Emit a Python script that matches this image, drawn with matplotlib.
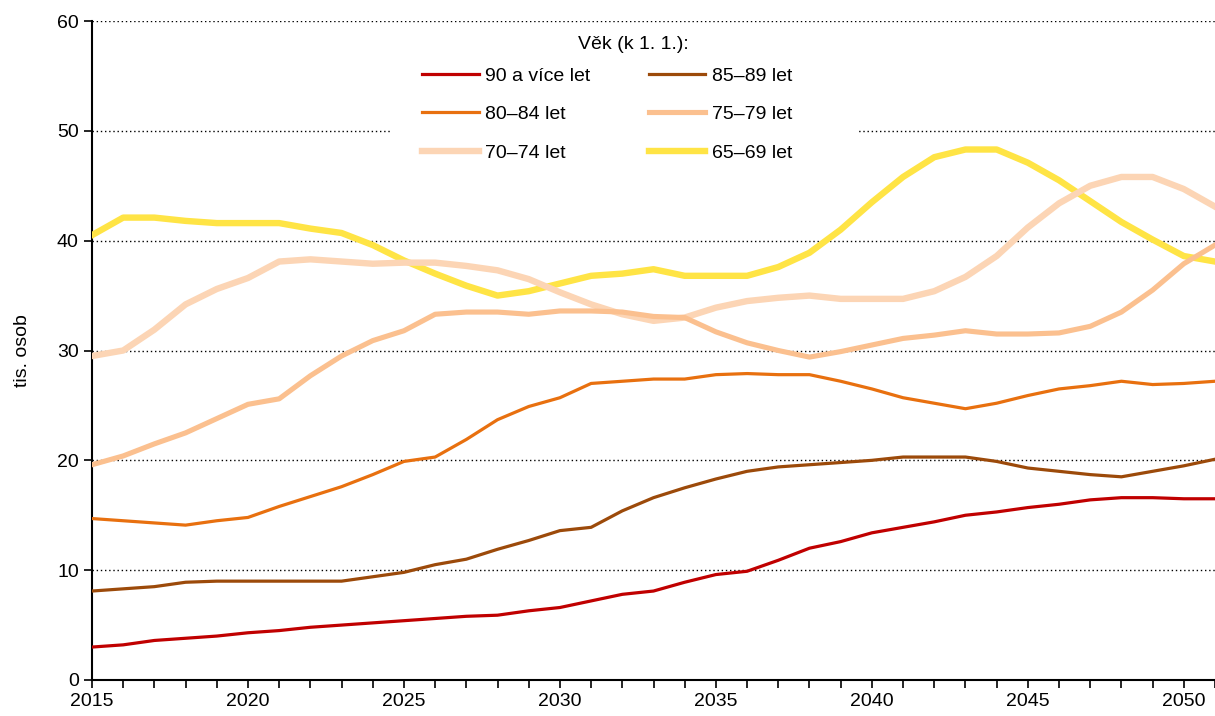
import matplotlib
matplotlib.use("Agg")
import matplotlib.pyplot as plt
from matplotlib.patches import Rectangle
from matplotlib.transforms import blended_transform_factory

plt.rcParams['font.family'] = ['Liberation Sans', 'DejaVu Sans']

years = list(range(2015, 2052))

age_90 = [3.0, 3.2, 3.6, 3.8, 4.0, 4.3, 4.5, 4.8, 5.0, 5.2, 5.4, 5.6, 5.8, 5.9, 6.3, 6.6,
          7.2, 7.8, 8.1, 8.9, 9.6, 9.9, 10.9, 12.0, 12.6, 13.4, 13.9, 14.4, 15.0, 15.3,
          15.7, 16.0, 16.4, 16.6, 16.6, 16.5, 16.5]
age_85 = [8.1, 8.3, 8.5, 8.9, 9.0, 9.0, 9.0, 9.0, 9.0, 9.4, 9.8, 10.5, 11.0, 11.9, 12.7, 13.6,
          13.9, 15.4, 16.6, 17.5, 18.3, 19.0, 19.4, 19.6, 19.8, 20.0, 20.3, 20.3, 20.3, 19.9,
          19.3, 19.0, 18.7, 18.5, 19.0, 19.5, 20.1]
age_80 = [14.7, 14.5, 14.3, 14.1, 14.5, 14.8, 15.8, 16.7, 17.6, 18.7, 19.9, 20.3, 21.9, 23.7,
          24.9, 25.7, 27.0, 27.2, 27.4, 27.4, 27.8, 27.9, 27.8, 27.8, 27.2, 26.5, 25.7, 25.2,
          24.7, 25.2, 25.9, 26.5, 26.8, 27.2, 26.9, 27.0, 27.2]
age_75 = [19.6, 20.4, 21.5, 22.5, 23.8, 25.1, 25.6, 27.7, 29.5, 30.9, 31.8, 33.3, 33.5, 33.5,
          33.3, 33.6, 33.6, 33.5, 33.1, 33.0, 31.7, 30.7, 30.0, 29.4, 29.9, 30.5, 31.1, 31.4,
          31.8, 31.5, 31.5, 31.6, 32.2, 33.5, 35.5, 37.9, 39.6]
age_70 = [29.5, 30.0, 31.9, 34.2, 35.6, 36.6, 38.1, 38.3, 38.1, 37.9, 38.0, 38.0, 37.7, 37.3,
          36.5, 35.3, 34.2, 33.3, 32.7, 33.0, 33.9, 34.5, 34.8, 35.0, 34.7, 34.7, 34.7, 35.4,
          36.7, 38.6, 41.2, 43.4, 45.0, 45.8, 45.8, 44.7, 43.1]
age_65 = [40.5, 42.1, 42.1, 41.8, 41.6, 41.6, 41.6, 41.1, 40.7, 39.6, 38.2, 37.0, 35.9, 35.0,
          35.4, 36.1, 36.8, 37.0, 37.4, 36.8, 36.8, 36.8, 37.6, 38.9, 41.0, 43.5, 45.8, 47.6,
          48.3, 48.3, 47.1, 45.5, 43.6, 41.7, 40.1, 38.6, 38.1]

fig = plt.figure(figsize=(12.15, 7.16), dpi=100)
ax = fig.add_axes([92 / 1215, 1 - 680 / 716, 1 - 92 / 1215, (680 - 21) / 716])

l90, = ax.plot(years, age_90, color='#C00000', lw=2.3, label='90 a více let', zorder=8)
l85, = ax.plot(years, age_85, color='#9C4A0A', lw=2.3, label='85–89 let', zorder=7)
l80, = ax.plot(years, age_80, color='#E8700F', lw=2.3, label='80–84 let', zorder=6)
l75, = ax.plot(years, age_75, color='#FBC08F', lw=3.7, label='75–79 let', zorder=5)
l70, = ax.plot(years, age_70, color='#FCD5B5', lw=4.6, label='70–74 let', zorder=4)
l65, = ax.plot(years, age_65, color='#FFE445', lw=4.6, label='65–69 let', zorder=3)

ax.set_xlim(2015, 2051)
ax.set_ylim(0, 60)
ax.set_xticks(range(2015, 2052))
ax.set_xticklabels([str(y) if (y - 2015) % 5 == 0 else '' for y in range(2015, 2052)])
ax.set_yticks(range(0, 61, 10))
ax.tick_params(axis='both', labelsize=14, direction='out', length=6, width=1.2, colors='black')
ax.tick_params(axis='x', pad=3)
ax.set_ylabel('tis. osob', fontsize=14, labelpad=19)

ax.yaxis.grid(True, linestyle=(0, (1, 2)), color='black', linewidth=1.0)
ax.set_axisbelow(True)
for s in ['top', 'right']:
    ax.spines[s].set_visible(False)
for s in ['left', 'bottom']:
    ax.spines[s].set_linewidth(1.5)

# white background of the legend, hides the grid behind it
trans = blended_transform_factory(ax.transAxes, ax.transData)
ax.add_patch(Rectangle((0.267, 45.5), 0.415, 14.0, transform=trans,
                       facecolor='white', edgecolor='none', zorder=1))

ax.text(0.4817, 0.9636, 'Věk (k 1. 1.):', transform=ax.transAxes, fontsize=14,
        ha='center', va='center', zorder=11)

leg = ax.legend([l90, l80, l70, l85, l75, l65],
                ['90 a více let', '80–84 let', '70–74 let', '85–89 let', '75–79 let', '65–69 let'],
                ncol=2, fontsize=14,
                loc='upper center', bbox_to_anchor=(0.459, 0.951), frameon=False,
                handlelength=2.9, handletextpad=0.35, columnspacing=3.0,
                labelspacing=1.08, borderpad=0.5, borderaxespad=0.2)
leg.set_zorder(10)

fig.savefig('out.png', dpi=100)
